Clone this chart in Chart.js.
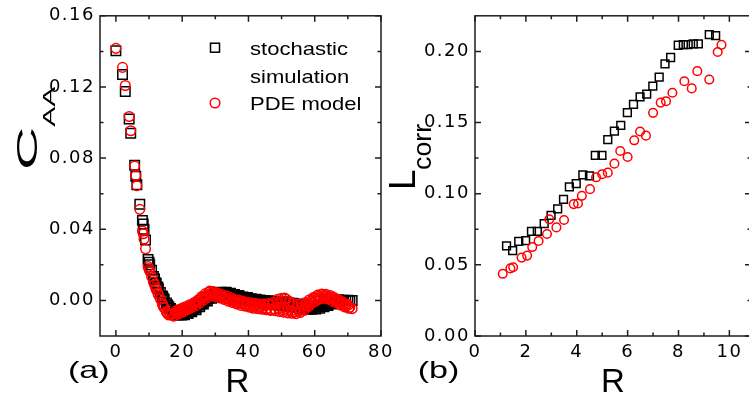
<!DOCTYPE html>
<html><head><meta charset="utf-8">
<script src="https://cdn.jsdelivr.net/npm/chart.js@4.4.0/dist/chart.umd.min.js"></script>
<style>
html,body{margin:0;padding:0;background:#fff;overflow:hidden;width:749px;height:401px}
#wa{position:absolute;left:0;top:0;width:400px;height:401px}
#wb{position:absolute;left:380px;top:0;width:385px;height:401px}
</style></head><body>
<div id="wa"><canvas id="ca"></canvas></div>
<div id="wb"><canvas id="cb"></canvas></div>
<script>
// ---------- data ----------
// panel (a): C_AA versus R
const stochasticA = [[0,0.1404],[2,0.127],[2.83,0.1174],[4,0.102],[4.47,0.094],[5.66,0.076],[6,0.0698],[6.32,0.065],[7.21,0.054],[8,0.045],[8.25,0.043],[8.49,0.040],[8.94,0.034],[9.7,0.023],[10,0.0215],[10.2,0.020],[10.77,0.017],[11.31,0.0135],[11.66,0.012],[12,0.010],[12.17,0.0095],[12.65,0.0075],[12.81,0.0065],[13.42,0.0045],[14,0.0025],[14.14,0.002],[14.42,0.001],[14.56,0.0005],[15.23,-0.0015],[15.62,-0.0025],[16,-0.0035],[16.49,-0.0045],[16.97,-0.0055],[17.89,-0.0065],[18.44,-0.007],[18.87,-0.0072],[19.42,-0.0075],[20,-0.0073],[20.4,-0.007],[20.88,-0.0072],[21.54,-0.0066],[22.09,-0.0062],[22.63,-0.0058],[23.32,-0.005],[24,-0.0042],[24.33,-0.0036],[25.06,-0.0026],[25.61,-0.002],[26.08,-0.0012],[26.83,-0.0002],[27.29,0.0006],[28,0.0014],[28.64,0.002],[29.12,0.0026],[29.73,0.003],[30.41,0.0034],[31.04,0.0037],[31.62,0.0036],[32.25,0.0039],[33.06,0.0036],[33.6,0.0037],[34.18,0.0033],[34.99,0.0031],[35.44,0.0027],[36.06,0.0028],[36.88,0.0022],[37.36,0.002],[38.05,0.0016],[38.63,0.0014],[39.4,0.001],[40,0.0008],[40.61,0.0004],[41.18,0.0005],[41.77,0.0001],[42.52,0.0002],[43.08,-0.0003],[43.86,-0.0001],[44.38,-0.0005],[45.08,-0.0004],[45.61,-0.0008],[46.32,-0.0006],[46.87,-0.001],[47.54,-0.0009],[48.17,-0.0013],[48.83,-0.0011],[49.4,-0.0015],[50,-0.0014],[50.6,-0.0018],[51.26,-0.0016],[51.88,-0.002],[52.46,-0.0019],[53.15,-0.0023],[53.67,-0.0022],[54.37,-0.0026],[55.01,-0.0027],[55.57,-0.003],[56.22,-0.0032],[56.89,-0.0035],[57.42,-0.0036],[58.14,-0.0038],[58.69,-0.0037],[59.36,-0.0039],[60,-0.0036],[60.6,-0.0037],[61.2,-0.0033],[61.85,-0.0032],[62.48,-0.0028],[63.12,-0.0025],[63.63,-0.0022],[64.4,-0.0018],[65.01,-0.0014],[65.6,-0.001],[66.22,-0.0007],[66.85,-0.0004],[67.48,-0.0002],[68.12,0],[68.7,0.0001],[69.35,0],[70,0.0001],[70.6,0],[71.3,0],
[17.4,-0.0072],[18.1,-0.006],[18.7,-0.0082],[19.2,-0.0064],[19.8,-0.0082],[20.2,-0.0062],[20.7,-0.008],[21.2,-0.006],[21.8,-0.0074],[22.3,-0.0052],[22.9,-0.0064],[23.6,-0.0042],[24.2,-0.0052],[24.7,-0.0026],[25.3,-0.0036],[25.9,-0.001],[26.4,-0.002],[27.0,0.0008],[27.6,-0.0004],[28.3,0.0022],[28.9,0.0012],[29.4,0.0034],[30.0,0.0022],[30.7,0.0044],[31.3,0.003],[31.9,0.0046],[32.6,0.003],[33.3,0.0046],[33.9,0.0028],[34.6,0.004],[35.2,0.0022],[35.8,0.0034],[36.5,0.0016],[37.1,0.0028],[37.7,0.001],[38.3,0.002],[39.0,0.0004],[39.7,0.0016],[40.3,-0.0004],[40.9,0.001],[41.5,-0.0008],[42.2,0.0006],[42.8,-0.001],[43.5,0.0002],[44.1,-0.0014],[44.7,0],[45.3,-0.0016],[46.0,-0.0002],[46.6,-0.002],[47.2,-0.0004],[47.9,-0.0024],[48.5,-0.0006],[49.1,-0.0026],[49.7,-0.0008],[50.3,-0.0028],[50.9,-0.001],[51.6,-0.003],[52.2,-0.0014],[52.8,-0.0034],[53.4,-0.0016],[54.0,-0.0038],[54.7,-0.002],[55.3,-0.0042],[55.9,-0.0026],[56.5,-0.0048],[57.1,-0.003],[57.8,-0.005],[58.4,-0.0034],[59.0,-0.005],[59.7,-0.0032],[60.3,-0.0048],[60.9,-0.003],[61.5,-0.0044],[62.1,-0.0024],[62.8,-0.0036],[63.4,-0.0016],[64.0,-0.0028],[64.7,-0.0008],[65.3,-0.002],[65.9,-0.0002],[66.5,-0.0012],[67.2,0.0004],[67.8,-0.0006]];
const pdeA = [[0,0.1417],[2,0.131],[2.83,0.1208],[4,0.1034],[4.47,0.0954],[5.66,0.0755],[6,0.0702],[6.32,0.0645],[7.21,0.0512],[8,0.039],[8.25,0.0375],[8.49,0.0345],[8.94,0.029],[9.7,0.019],[10,0.0175],[10.2,0.0165],[10.77,0.0135],[11.31,0.0105],[11.66,0.0088],[12,0.0072],[12.17,0.0062],[12.65,0.0042],[12.81,0.0032],[13.42,0.0008],[14,-0.0018],[14.14,-0.0025],[14.42,-0.0038],[14.56,-0.0042],[15.23,-0.0065],[15.62,-0.0075],[16,-0.0082],[16.49,-0.0078],[16.97,-0.008],[17.89,-0.0072],[18.44,-0.0068],[18.87,-0.0064],[19.42,-0.006],[20,-0.0052],[20.4,-0.0054],[20.88,-0.0046],[21.54,-0.0042],[22.09,-0.0034],[22.63,-0.003],[23.32,-0.0022],[24,-0.0015],[24.33,-0.001],[25.06,0],[25.61,0.0008],[26.08,0.0015],[26.83,0.0025],[27.29,0.003],[28,0.0045],[28.64,0.0038],[29.12,0.0042],[29.73,0.0035],[30.41,0.0032],[31.04,0.0024],[31.62,0.0028],[32.25,0.0018],[33.06,0.0014],[33.6,0.0008],[34.18,0.0005],[34.99,-0.0002],[35.44,0.0002],[36.06,-0.0008],[36.88,-0.0012],[37.36,-0.0006],[38.05,-0.0018],[38.63,-0.0014],[39.4,-0.0024],[40,-0.002],[40.61,-0.003],[41.18,-0.0022],[41.77,-0.0034],[42.52,-0.0026],[43.08,-0.0038],[43.86,-0.0028],[44.38,-0.0042],[45.08,-0.003],[45.61,-0.0046],[46.32,-0.0024],[46.87,-0.0052],[47.54,-0.001],[48.17,-0.0058],[48.83,0.0006],[49.4,-0.0062],[50,0.0012],[50.6,-0.0066],[51.26,0.0008],[51.88,-0.007],[52.46,-0.0012],[53.15,-0.0072],[53.67,-0.003],[54.37,-0.0074],[55.01,-0.0042],[55.57,-0.0068],[56.22,-0.0038],[56.89,-0.0055],[57.42,-0.0022],[58.14,-0.0035],[58.69,-0.0004],[59.36,-0.0012],[60,0.0014],[60.6,0.0006],[61.2,0.0024],[61.85,0.0016],[62.48,0.0028],[63.12,0.0022],[63.63,0.0026],[64.4,0.0016],[65.01,0.0018],[65.6,0.0004],[66.22,0.0006],[66.85,-0.0008],[67.48,-0.0006],[68.12,-0.002],[68.7,-0.0018],[69.35,-0.003],[70,-0.0028],[70.6,-0.0038],[71.3,-0.0046],
[17.4,-0.0088],[18.1,-0.0058],[18.7,-0.0078],[19.2,-0.005],[19.8,-0.0068],[20.2,-0.0042],[20.7,-0.006],[21.2,-0.0034],[21.8,-0.005],[22.3,-0.0024],[22.9,-0.004],[23.6,-0.0012],[24.2,-0.0028],[24.7,0.0002],[25.3,-0.0014],[25.9,0.0022],[26.4,0.0002],[27.0,0.0038],[27.6,0.0016],[28.3,0.0052],[28.9,0.0026],[29.4,0.005],[30.0,0.0022],[30.7,0.0042],[31.3,0.0014],[31.9,0.0034],[32.6,0.0006],[33.3,0.0026],[33.9,-0.0004],[34.6,0.0016],[35.2,-0.0012],[35.8,0.0006],[36.5,-0.002],[37.1,0.0002],[37.7,-0.0028],[38.3,-0.0004],[39.0,-0.0032],[39.7,-0.001],[40.3,-0.0038],[40.9,-0.0014],[41.5,-0.0044],[42.2,-0.0016],[42.8,-0.0046],[43.5,-0.002],[44.1,-0.005],[44.7,-0.002],[45.3,-0.0052],[46.0,-0.0018],[46.6,-0.0056],[47.2,-0.0022],[47.9,-0.0048],[48.5,-0.0016],[49.1,-0.0046],[49.7,-0.0004],[50.3,-0.0052],[50.9,0.0014],[51.6,-0.0056],[52.2,-0.0004],[52.8,-0.006],[53.4,-0.0018],[54.0,-0.0064],[54.7,-0.0022],[55.3,-0.0058],[55.9,-0.0024],[56.5,-0.0048],[57.1,-0.0012],[57.8,-0.003],[58.4,0.0004],[59.0,-0.0016],[59.7,0.0018],[60.3,-0.0004],[60.9,0.003],[61.5,0.0008],[62.1,0.0036],[62.8,0.0012],[63.4,0.0034],[64.0,0.0008],[64.7,0.0028],[65.3,-0.0004],[65.9,0.0016],[66.5,-0.0014],[67.2,0.0004],[67.8,-0.0026],[68.4,-0.0008],[69.0,-0.0036],[69.7,-0.002],[70.3,-0.0044]];
// panel (b): L_corr versus R
const stochasticB = [[1.24,0.0633],[1.48,0.0600],[1.72,0.0665],[1.99,0.0670],[2.22,0.0735],[2.45,0.0735],[2.72,0.0790],[2.99,0.0848],[3.25,0.0893],[3.48,0.0960],[3.71,0.1048],[3.98,0.1070],[4.24,0.1132],[4.50,0.1125],[4.73,0.1270],[4.99,0.1270],[5.22,0.1380],[5.48,0.1440],[5.73,0.1480],[5.99,0.1570],[6.23,0.1627],[6.49,0.1680],[6.75,0.1700],[6.99,0.1756],[7.24,0.1819],[7.47,0.1912],[7.69,0.1957],[7.99,0.2043],[8.19,0.2048],[8.38,0.2048],[8.58,0.2052],[8.78,0.2052],[9.21,0.2118],[9.46,0.2110]];
const pdeB = [[1.09,0.0437],[1.39,0.0475],[1.50,0.0483],[1.83,0.0551],[2.05,0.0565],[2.25,0.0625],[2.50,0.0668],[2.83,0.0717],[2.92,0.0820],[3.20,0.0763],[3.50,0.0815],[3.88,0.0927],[4.05,0.0931],[4.20,0.0985],[4.52,0.1032],[4.76,0.1115],[5.0,0.1137],[5.22,0.1148],[5.48,0.1211],[5.71,0.1300],[6.0,0.1258],[6.26,0.1375],[6.49,0.1437],[6.72,0.1408],[7.0,0.1568],[7.3,0.1640],[7.51,0.1650],[7.76,0.1709],[8.23,0.1790],[8.52,0.1740],[8.74,0.1861],[9.21,0.1802],[9.54,0.1996],[9.69,0.2046]];
// tick values
const xTicksA = [0,20,40,60,80];
const xMinorA = [10,30,50,70];
const yTicksA = [0,0.04,0.08,0.12,0.16];
const yMinorA = [0.02,0.06,0.10,0.14];
const xTicksB = [0,2,4,6,8,10];
const xMinorB = [1,3,5,7,9];
const yTicksB = [0,0.05,0.10,0.15,0.20];
const yMinorB = [0.025,0.075,0.125,0.175];
const seriesNames = ['stochastic simulation','PDE model'];
const legendLines = ['stochastic','simulation','PDE model'];

// ---------- drawing helpers ----------
const FONT = '"Liberation Sans", Arial, sans-serif';
const TICKFONT = '"DejaVu Sans", sans-serif';
function drawText(ctx, it, ox) {
  ctx.save();
  ctx.translate(it.x - ox, it.y);
  if (it.rot) ctx.rotate(it.rot);
  ctx.scale(it.sx || 1, it.sy || 1);
  ctx.font = it.size + 'px ' + FONT;
  ctx.letterSpacing = '0px';
  ctx.fillStyle = '#000';
  ctx.textAlign = it.align || 'left';
  ctx.textBaseline = 'alphabetic';
  ctx.fillText(it.t, 0, 0);
  ctx.restore();
}
const framePlugin = {
  id: 'frame',
  beforeDraw(chart) { chart.ctx.letterSpacing = '1.5px'; },
  beforeDatasetsDraw(chart, args, o) {
    const {ctx, chartArea: a, scales: {x, y}} = chart;
    ctx.save();
    ctx.strokeStyle = '#1e1e1e';
    ctx.lineWidth = 1.5;
    ctx.strokeRect(a.left, a.top, a.right - a.left, a.bottom - a.top);
    ctx.beginPath();
    const vx = (vals, len) => vals.forEach(v => {
      const p = x.getPixelForValue(v);
      ctx.moveTo(p, a.bottom); ctx.lineTo(p, a.bottom - len);
      ctx.moveTo(p, a.top); ctx.lineTo(p, a.top + len);
    });
    const vy = (vals, len) => vals.forEach(v => {
      const p = y.getPixelForValue(v);
      ctx.moveTo(a.left, p); ctx.lineTo(a.left + len, p);
      ctx.moveTo(a.right, p); ctx.lineTo(a.right - len, p);
    });
    vx(o.xMajor, 6); vx(o.xMinor, 3.5); vy(o.yMajor, 6); vy(o.yMinor, 3.5);
    ctx.stroke();
    ctx.restore();
  },
  afterDraw(chart, args, o) {
    const ctx = chart.ctx;
    (o.texts || []).forEach(it => drawText(ctx, it, o.ox));
    if (o.legend) {
      const L = o.legend;
      ctx.save();
      ctx.lineWidth = 1.5;
      ctx.strokeStyle = '#000';
      ctx.strokeRect(L.sx - o.ox - 4.5, L.sy - 4.5, 9, 9);
      ctx.strokeStyle = '#ff0000';
      ctx.beginPath(); ctx.arc(L.cx - o.ox, L.cy, 4.8, 0, Math.PI * 2); ctx.stroke();
      ctx.restore();
      L.lines.forEach(it => drawText(ctx, it, o.ox));
    }
  }
};

function makeChart(id, c) {
  const tickFont = {family: TICKFONT, size: 18};
  return new Chart(document.getElementById(id), {
    type: 'scatter',
    data: {datasets: [
      {label: seriesNames[0], data: c.s.map(p => ({x: p[0], y: p[1]})), pointStyle: 'rect',
       pointRadius: c.rr, borderColor: '#000', backgroundColor: 'rgba(0,0,0,0)', borderWidth: 1.5, order: 2},
      {label: seriesNames[1], data: c.p.map(p => ({x: p[0], y: p[1]})), pointStyle: 'circle',
       pointRadius: c.cr, borderColor: '#ff0000', backgroundColor: 'rgba(0,0,0,0)', borderWidth: 1.5, order: 1}
    ]},
    options: {
      responsive: true, maintainAspectRatio: false, animation: false, devicePixelRatio: 1,
      layout: {padding: c.pad},
      events: [],
      plugins: {legend: {display: false}, tooltip: {enabled: false},
        frame: {xMajor: c.xt, xMinor: c.xm, yMajor: c.yt, yMinor: c.ym, texts: c.texts, legend: c.legend, ox: c.ox}},
      scales: {
        x: {type: 'linear', min: c.xr[0], max: c.xr[1], grid: {display: false, drawTicks: false}, border: {display: false},
            afterBuildTicks: s => { s.ticks = c.xt.map(v => ({value: v})); },
            afterFit: s => { s.height = 65; },
            ticks: {padding: 6, color: '#000', font: tickFont, maxRotation: 0, autoSkip: false,
                    callback: v => String(v)}},
        y: {type: 'linear', min: c.yr[0], max: c.yr[1], grid: {display: false, drawTicks: false}, border: {display: false},
            afterBuildTicks: s => { s.ticks = c.yt.map(v => ({value: v})); },
            afterFit: s => { s.width = c.yw; },
            ticks: {padding: 5, color: '#000', font: tickFont, autoSkip: false,
                    callback: v => Number(v).toFixed(2)}}
      }
    },
    plugins: [framePlugin]
  });
}

const ROT = -Math.PI / 2;
makeChart('ca', {
  s: stochasticA, p: pdeA, rr: 6.7, cr: 4.8, ox: 0,
  xr: [-4.8, 80], yr: [-0.02, 0.16], xt: xTicksA, xm: xMinorA, yt: yTicksA, ym: yMinorA,
  pad: {left: 0, right: 19, top: 14, bottom: 0}, yw: 100,
  texts: [
    {t: '(a)', x: 68, y: 378, size: 24, sx: 1.42},
    {t: 'R', x: 237.5, y: 391.5, size: 33, align: 'center'},
    {t: 'C', x: 37, y: 170, size: 30, sx: 2.0, rot: ROT},
    {t: 'AA', x: 55, y: 126.7, size: 16, sx: 1.88, rot: ROT}
  ],
  legend: {sx: 215, sy: 47.7, cx: 215, cy: 103, lines: [
    {t: legendLines[0], x: 250, y: 55, size: 19, sx: 1.16},
    {t: legendLines[1], x: 250, y: 82.5, size: 19, sx: 1.16},
    {t: legendLines[2], x: 250, y: 110, size: 19, sx: 1.16}
  ]}
});
makeChart('cb', {
  s: stochasticB, p: pdeB, rr: 5.5, cr: 4.3, ox: 380,
  xr: [0, 10.85], yr: [0, 0.225], xt: xTicksB, xm: xMinorB, yt: yTicksB, ym: yMinorB,
  pad: {left: 0, right: 14, top: 14, bottom: 0}, yw: 95,
  texts: [
    {t: '(b)', x: 417.7, y: 378, size: 24, sx: 1.42},
    {t: 'R', x: 613, y: 391.5, size: 33, align: 'center'},
    {t: 'L', x: 415, y: 190, size: 37, rot: ROT},
    {t: 'corr', x: 431, y: 170, size: 25.5, sx: 1.05, rot: ROT}
  ]
});
</script>
</body></html>
